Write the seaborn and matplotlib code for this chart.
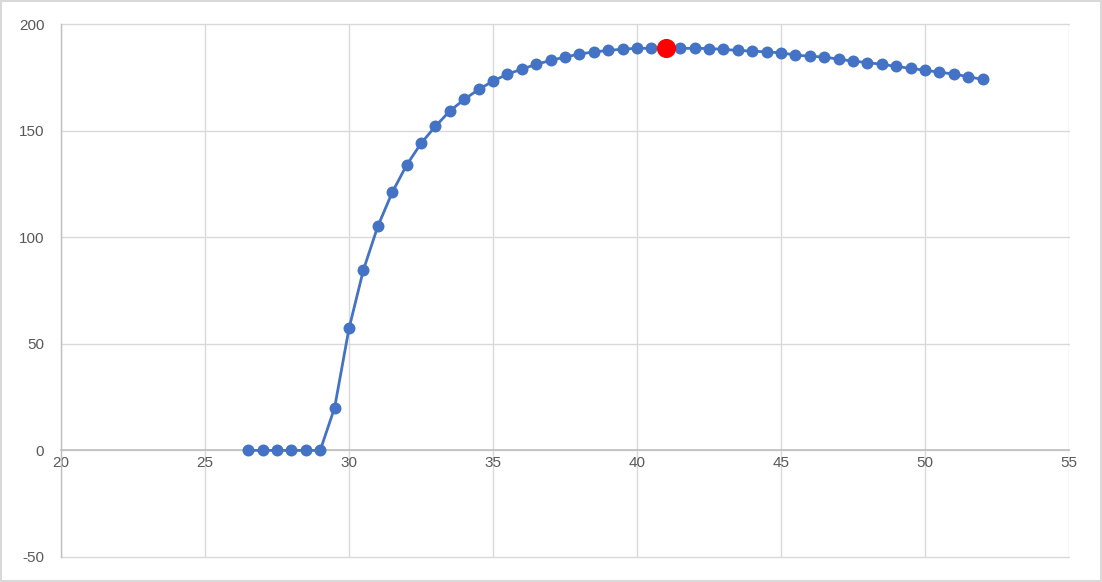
import matplotlib
matplotlib.use("Agg")
import matplotlib.pyplot as plt
import pandas as pd
import seaborn as sns

# ── data ─────────────────────────────────────────────────────────────────
x_vals = [26.5, 27, 27.5, 28, 28.5, 29, 29.5, 30, 30.5, 31, 31.5, 32, 32.5,
          33, 33.5, 34, 34.5, 35, 35.5, 36, 36.5, 37, 37.5, 38, 38.5, 39,
          39.5, 40, 40.5, 41, 41.5, 42, 42.5, 43, 43.5, 44, 44.5, 45, 45.5,
          46, 46.5, 47, 47.5, 48, 48.5, 49, 49.5, 50, 50.5, 51, 51.5, 52]
y_vals = [0, 0, 0, 0, 0, 0, 20.0, 57.2, 84.6, 105.1, 121.0, 133.8, 144.0,
          152.0, 159.2, 164.6, 169.3, 173.2, 176.5, 178.8, 181.1, 182.9,
          184.5, 185.9, 186.9, 187.6, 188.2, 188.6, 188.6, 188.7, 188.6,
          188.6, 188.5, 188.1, 187.6, 187.3, 186.9, 186.5, 185.4, 184.9,
          184.5, 183.5, 182.6, 181.9, 181.1, 180.1, 179.2, 178.3, 177.4,
          176.5, 175.3, 174.0]
peak_x = [41]
peak_y = [188.7]

x_ticks = [20, 25, 30, 35, 40, 45, 50, 55]
y_ticks = [-50, 0, 50, 100, 150, 200]

BLUE = "#4472C4"
RED = "#FF0000"
GRID = "#D9D9D9"
AXIS = "#BFBFBF"
TEXT = "#595959"

sns.set_style("white")
plt.rcParams["font.family"] = ["Liberation Sans", "DejaVu Sans"]
plt.rcParams["axes.unicode_minus"] = False

W, H = 1102, 582
fig = plt.figure(figsize=(W / 100, H / 100), dpi=100)
fig.patch.set_facecolor("white")
fig.patch.set_edgecolor(GRID)
fig.patch.set_linewidth(1.5)

ax = fig.add_axes([61 / W, 1 - 557 / H, 1008 / W, 533 / H])

df = pd.DataFrame({"x": x_vals, "y": y_vals})
sns.lineplot(data=df, x="x", y="y", ax=ax, color=BLUE, linewidth=2,
             marker="o", markersize=8.6, markeredgewidth=0, zorder=3)
sns.scatterplot(x=peak_x, y=peak_y, ax=ax, color=RED, s=190,
                linewidth=0, zorder=4)

ax.set_xlim(20, 55)
ax.set_ylim(-50, 200)
ax.set_xticks(x_ticks)
ax.set_yticks(y_ticks)
ax.set_xlabel("")
ax.set_ylabel("")

ax.grid(True, color=GRID, linewidth=1)
ax.set_axisbelow(True)
for gl in ax.get_xgridlines() + ax.get_ygridlines():
    gl.set_clip_on(False)

for sp in ["top", "right"]:
    ax.spines[sp].set_visible(False)
ax.spines["left"].set_color(AXIS)
ax.spines["left"].set_linewidth(1)
ax.spines["bottom"].set_position(("data", 0))
ax.spines["bottom"].set_color(AXIS)
ax.spines["bottom"].set_linewidth(1.2)
ax.spines["bottom"].set_zorder(2)

ax.tick_params(axis="both", length=0, labelsize=11, labelcolor=TEXT)
ax.tick_params(axis="y", pad=12)
ax.tick_params(axis="x", pad=4)

fig.savefig("out.png", dpi=100, facecolor="white", edgecolor=GRID)
plt.close(fig)
